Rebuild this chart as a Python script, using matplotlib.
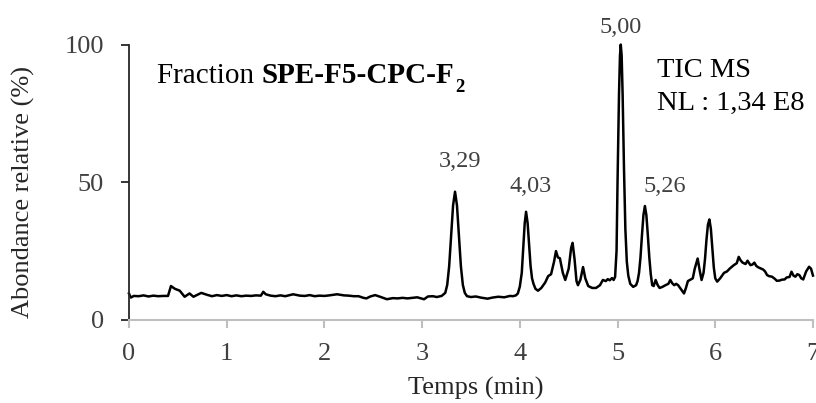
import matplotlib
matplotlib.use("Agg")
import matplotlib.pyplot as plt

plt.rcParams['font.family'] = ['Liberation Serif', 'DejaVu Serif']

# retention time (min) and relative abundance (%)
temps = [0.00, 0.02, 0.05, 0.10, 0.15, 0.20, 0.25, 0.30, 0.35, 0.40,
         0.42, 0.43, 0.47, 0.52, 0.57, 0.62, 0.66, 0.70, 0.74, 0.80,
         0.85, 0.90, 0.95, 1.00, 1.05, 1.10, 1.15, 1.20, 1.25, 1.30,
         1.35, 1.375, 1.40, 1.45, 1.50, 1.55, 1.60, 1.68, 1.75, 1.80,
         1.85, 1.90, 1.95, 2.00, 2.05, 2.13, 2.20, 2.25, 2.30, 2.35,
         2.40, 2.43, 2.47, 2.52, 2.57, 2.64, 2.70, 2.75, 2.80, 2.85,
         2.90, 2.95, 2.98, 3.02, 3.06, 3.11, 3.15, 3.20, 3.237, 3.257,
         3.277, 3.297, 3.317, 3.337, 3.357, 3.377, 3.397, 3.417, 3.437, 3.46,
         3.50, 3.55, 3.60, 3.67, 3.72, 3.78, 3.84, 3.90, 3.93, 3.96,
         3.98, 4.00, 4.02, 4.035, 4.05, 4.064, 4.08, 4.095, 4.11, 4.125,
         4.14, 4.16, 4.186, 4.22, 4.26, 4.29, 4.32, 4.35, 4.37, 4.39,
         4.41, 4.44, 4.465, 4.50, 4.525, 4.54, 4.56, 4.58, 4.595, 4.62,
         4.647, 4.67, 4.70, 4.74, 4.78, 4.82, 4.85, 4.88, 4.90, 4.92,
         4.944, 4.96, 4.975, 4.99, 5.00, 5.015, 5.025, 5.033, 5.042, 5.052,
         5.066, 5.08, 5.095, 5.11, 5.13, 5.16, 5.19, 5.205, 5.22, 5.235,
         5.25, 5.265, 5.28, 5.295, 5.31, 5.325, 5.34, 5.355, 5.37, 5.39,
         5.41, 5.43, 5.46, 5.49, 5.52, 5.54, 5.56, 5.58, 5.60, 5.62,
         5.65, 5.68, 5.70, 5.72, 5.74, 5.77, 5.79, 5.82, 5.84, 5.86,
         5.88, 5.895, 5.91, 5.925, 5.94, 5.955, 5.97, 5.985, 6.00, 6.02,
         6.05, 6.09, 6.12, 6.15, 6.19, 6.22, 6.24, 6.26, 6.28, 6.31,
         6.33, 6.36, 6.38, 6.40, 6.42, 6.44, 6.47, 6.49, 6.51, 6.53,
         6.55, 6.58, 6.61, 6.63, 6.66, 6.68, 6.71, 6.73, 6.76, 6.78,
         6.80, 6.82, 6.84, 6.86, 6.88, 6.90, 6.93, 6.96, 6.98, 7.00]
abondance = [9.5, 8.0, 8.6, 8.5, 8.8, 8.4, 8.7, 8.5, 8.6, 8.6,
             11.0, 12.2, 11.2, 10.5, 8.3, 9.5, 8.3, 9.0, 9.7, 9.0,
             8.5, 8.9, 8.6, 8.9, 8.5, 8.8, 8.5, 8.7, 8.6, 8.8,
             8.7, 10.1, 9.2, 8.7, 8.5, 8.8, 8.5, 9.2, 8.7, 8.6,
             8.9, 8.5, 8.7, 8.6, 8.8, 9.2, 8.8, 8.7, 8.5, 8.5,
             7.9, 7.7, 8.4, 8.9, 8.3, 7.4, 7.8, 7.7, 7.9, 7.7,
             7.9, 8.1, 7.8, 7.4, 8.4, 8.5, 8.2, 8.6, 9.7, 12.6,
             19.4, 30.4, 41.5, 46.5, 41.5, 30.4, 19.4, 12.6, 9.7, 8.5,
             8.2, 8.4, 8.0, 7.6, 8.0, 8.3, 8.1, 8.6, 8.5, 8.8,
             9.5, 12.0, 17.0, 26.0, 35.0, 39.2, 35.0, 27.0, 19.5, 15.0,
             13.0, 11.2, 10.5, 11.5, 13.5, 15.8, 16.5, 21.0, 24.9, 22.6,
             22.3, 17.0, 14.4, 18.5, 26.0, 27.9, 22.0, 14.0, 12.5, 14.5,
             19.1, 15.0, 12.2, 11.5, 11.5, 12.5, 14.4, 14.0, 14.7, 14.3,
             15.1, 14.4, 15.5, 25.0, 50.0, 82.0, 96.0, 100.0, 96.0, 82.0,
             55.0, 33.0, 21.0, 16.0, 13.0, 11.9, 12.5, 14.0, 17.0, 22.7,
             30.7, 38.0, 41.3, 38.0, 30.7, 22.7, 16.5, 12.5, 12.2, 14.4,
             12.6, 11.5, 11.9, 12.5, 13.0, 14.4, 13.2, 12.5, 13.0, 12.5,
             11.0, 9.5, 11.5, 14.0, 14.4, 15.0, 18.5, 22.2, 18.0, 14.4,
             17.0, 22.0, 29.0, 34.5, 36.4, 33.0, 26.0, 19.0, 15.0, 13.8,
             15.0, 17.0, 17.5, 18.6, 19.8, 20.5, 22.8, 21.5, 20.7, 20.2,
             21.4, 19.8, 20.0, 20.7, 19.5, 19.0, 18.5, 18.2, 17.5, 16.2,
             15.8, 15.6, 14.8, 14.1, 14.2, 14.5, 14.6, 15.3, 15.5, 17.4,
             16.0, 15.6, 16.5, 16.2, 15.0, 14.6, 17.5, 19.2, 18.5, 16.0]

# peak annotations: text, x, y (baseline)
pic_labels = ["3,29", "4,03", "5,00", "5,26"]
pic_x = [3.39, 4.11, 5.034, 5.48]
pic_y = [55.6, 46.5, 104.3, 46.5]

x_ticks = [0, 1, 2, 3, 4, 5, 6, 7]
y_ticks = [0, 50, 100]

fig = plt.figure(figsize=(8.16, 4.03), dpi=100)
ax = fig.add_axes([0.158, 0.207, 0.8383, 0.6824])

ax.plot(temps, abondance, color='black', lw=1.8, clip_on=False)

ax.set_xlim(0, 7)
ax.set_ylim(0, 100)
ax.set_xticks(x_ticks)
ax.set_yticks(y_ticks)

for s in ['top', 'right']:
    ax.spines[s].set_visible(False)
ax.spines['left'].set_color('#262626')
ax.spines['left'].set_linewidth(1.3)
ax.spines['bottom'].set_color('#bfbfbf')
ax.spines['bottom'].set_linewidth(1.5)

ax.tick_params(axis='y', length=6, width=1.3, color='#262626', pad=12,
               labelsize=19, labelcolor='#404040')
ax.tick_params(axis='x', length=6, width=1.5, color='#bfbfbf', pad=11,
               labelsize=19, labelcolor='#404040')

ax.set_xlabel("Temps (min)", fontsize=19, color='#262626')
ax.set_ylabel("Abondance relative (%)", fontsize=19, color='#262626')
ax.xaxis.label.set_va('center')
ax.yaxis.label.set_va('center')
ax.xaxis.set_label_coords(0.507, -0.252)
ax.yaxis.set_label_coords(-0.154, 0.465)

# peak retention times
for lab, px, py in zip(pic_labels, pic_x, pic_y):
    ax.text(px, py, lab, fontsize=17.5, color='#404040', ha='center', va='baseline', clip_on=False)

# sample name, bold part with subscript
t1 = ax.text(0.29, 85.9, "Fraction ", fontsize=21, color='black', ha='left', va='baseline')
t2 = ax.annotate("SPE-F5-CPC-F", xy=(1, 0), xycoords=t1, fontsize=21, fontweight='bold',
                 color='black', ha='left', va='bottom')
ax.annotate("2", xy=(1, 0), xycoords=t2, xytext=(0.5, -4.5), textcoords='offset points',
            fontsize=13.5, fontweight='bold', color='black', ha='left', va='bottom')

ax.text(5.40, 88.1, "TIC MS", fontsize=20.5, color='black', ha='left', va='baseline')
ax.text(5.40, 76.2, "NL : 1,34 E8", fontsize=20.5, color='black', ha='left', va='baseline')

fig.savefig("out.png", dpi=100)
